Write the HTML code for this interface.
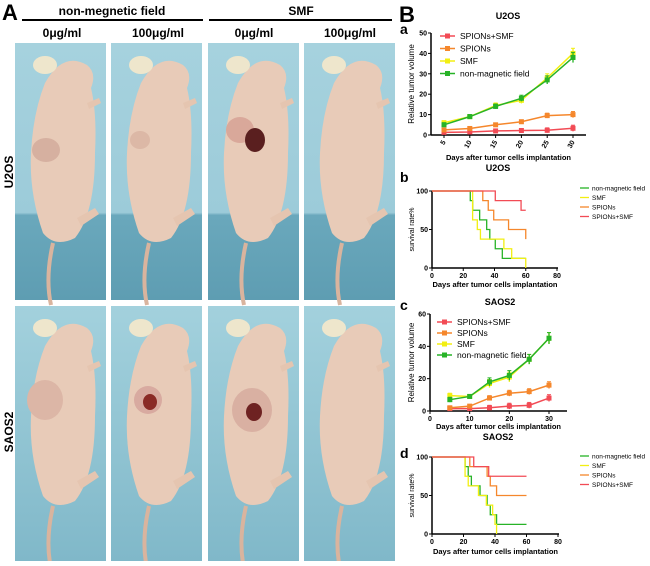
<!DOCTYPE html>
<html><head><meta charset="utf-8"><style>
body{margin:0;background:#fff;width:650px;height:561px;overflow:hidden;font-family:"Liberation Sans",Arial,sans-serif}
svg text{font-family:"Liberation Sans",Arial,sans-serif}
</style></head><body>
<svg id="fig" width="650" height="561" viewBox="0 0 650 561" xmlns="http://www.w3.org/2000/svg">
<defs>
<linearGradient id="bg1" x1="0" y1="0" x2="0" y2="1"><stop offset="0" stop-color="#a6d2de"/><stop offset="0.66" stop-color="#9ccbd9"/><stop offset="0.67" stop-color="#6aa8bc"/><stop offset="1" stop-color="#5e9db2"/></linearGradient>
<linearGradient id="bg2" x1="0" y1="0" x2="0" y2="1"><stop offset="0" stop-color="#a3d1dd"/><stop offset="1" stop-color="#80b8c9"/></linearGradient>
<g id="mouse">
<path d="M38 200 Q30 235 36 262" stroke="#d9b49e" stroke-width="4" fill="none"/>
<path d="M30 40 Q48 8 72 22 Q82 30 76 45 Q82 70 80 110 Q80 170 60 195 Q40 205 28 190 Q14 150 16 110 Q18 70 30 40Z" fill="#e8cbb8"/>
<ellipse cx="30" cy="22" rx="12" ry="9" fill="#eee6cc"/>
<path d="M62 175 L80 165 L84 171 L66 183Z" fill="#e5c5b0"/>
<path d="M72 60 L84 55 L86 60 L74 66Z" fill="#e5c5b0"/>
</g>
</defs>
<g>
<text x="2" y="20" font-size="22" font-weight="bold">A</text>
<text x="112" y="15" font-size="12" font-weight="bold" text-anchor="middle">non-megnetic field</text>
<text x="301" y="15" font-size="12" font-weight="bold" text-anchor="middle">SMF</text>
<line x1="22" y1="20" x2="203" y2="20" stroke="#000" stroke-width="2"/>
<line x1="209" y1="20" x2="392" y2="20" stroke="#000" stroke-width="2"/>
<text x="62" y="37" font-size="12" font-weight="bold" text-anchor="middle">0μg/ml</text>
<text x="158" y="37" font-size="12" font-weight="bold" text-anchor="middle">100μg/ml</text>
<text x="254" y="37" font-size="12" font-weight="bold" text-anchor="middle">0μg/ml</text>
<text x="350" y="37" font-size="12" font-weight="bold" text-anchor="middle">100μg/ml</text>
<text transform="translate(13,172) rotate(-90)" font-size="12" font-weight="bold" text-anchor="middle">U2OS</text>
<text transform="translate(13,432) rotate(-90)" font-size="12" font-weight="bold" text-anchor="middle">SAOS2</text>
<g>
<rect x="15" y="43" width="91" height="257" fill="url(#bg1)"/><use href="#mouse" x="15" y="43"/><ellipse cx="46" cy="150" rx="14" ry="12" fill="#d6b0a0"/>
<rect x="111" y="43" width="91" height="257" fill="url(#bg1)"/><use href="#mouse" x="111" y="43"/><ellipse cx="140" cy="140" rx="10" ry="9" fill="#dcb8a6"/>
<rect x="208" y="43" width="91" height="257" fill="url(#bg1)"/><use href="#mouse" x="208" y="43"/><ellipse cx="240" cy="130" rx="14" ry="13" fill="#d9a89a"/><ellipse cx="255" cy="140" rx="10" ry="12" fill="#5a1f1f"/>
<rect x="304" y="43" width="91" height="257" fill="url(#bg1)"/><use href="#mouse" x="304" y="43"/>
</g>
<g>
<rect x="15" y="306" width="91" height="255" fill="url(#bg2)"/><use href="#mouse" x="15" y="306"/><ellipse cx="45" cy="400" rx="18" ry="20" fill="#dcb6a6"/>
<rect x="111" y="306" width="91" height="255" fill="url(#bg2)"/><use href="#mouse" x="111" y="306"/><ellipse cx="148" cy="400" rx="14" ry="14" fill="#d8aaa0"/><ellipse cx="150" cy="402" rx="7" ry="8" fill="#8a2a26"/>
<rect x="208" y="306" width="91" height="255" fill="url(#bg2)"/><use href="#mouse" x="208" y="306"/><ellipse cx="252" cy="410" rx="20" ry="22" fill="#d9b0a2"/><ellipse cx="254" cy="412" rx="8" ry="9" fill="#6e2222"/>
<rect x="304" y="306" width="91" height="255" fill="url(#bg2)"/><use href="#mouse" x="304" y="306"/>
</g>
</g>
<g>
<text x="399" y="22" font-size="22" font-weight="bold">B</text>
<text x="400" y="34" font-size="14" font-weight="bold">a</text>
<text x="400" y="182" font-size="14" font-weight="bold">b</text>
<text x="400" y="310" font-size="14" font-weight="bold">c</text>
<text x="400" y="458" font-size="14" font-weight="bold">d</text>
<g id="charts"></g>
</g>
</svg>
<script>
// Chart a: U2OS tumor volume
const aDays=[5,10,15,20,25,30];
const aNonMag=[5,9,14,18,27,38];
const aSMF=[6,9,14.5,17,28,40];
const aSPIONs=[2.5,3.2,5,6.5,9.5,10];
const aCombo=[1.3,1.5,2,2.2,2.3,3.3];
const aErr=[1,1,1.2,1.5,2,2.5];
const aYTicks=[0,10,20,30,40,50];
// Chart c: SAOS2 tumor volume
const cDays=[5,10,15,20,25,30];
const cNonMag=[7,9,18,22,32,45];
const cSMF=[9.5,9,17,21,32,45];
const cSPIONs=[2,3,8,11,12,16];
const cCombo=[1.5,1.5,2,3,3.5,8];
const cErr=[1.5,1.2,2.5,3,3,3.5];
const cYTicks=[0,20,40,60];
const cXTicks=[0,10,20,30];
// Survival b: U2OS (step points: day, %)
const bNonMag=[[0,100],[24.5,87.5],[26,75],[30.5,62.5],[35,50],[37,37.5],[40.5,25],[45,12.5],[60,12.5]];
const bSMF=[[0,100],[26,62.5],[29,50],[31,37.5],[46,25],[51,12.5],[60,0]];
const bSPIONs=[[0,100],[32.5,87.5],[36,75],[39.5,62.5],[49,50],[60,37.5]];
const bCombo=[[0,100],[40.5,87.5],[57,75],[60,75]];
// Survival d: SAOS2
const dNonMag=[[0,100],[21,87.5],[23,75],[25,62.5],[30.5,50],[35,37.5],[37,25],[41,12.5],[60,12.5]];
const dSMF=[[0,100],[21,75],[23,62.5],[29.5,50],[34.5,37.5],[38.5,25],[40,12.5],[41,0]];
const dSPIONs=[[0,100],[24,87.5],[35,75],[37,62.5],[41,50],[60,50]];
const dCombo=[[0,100],[26.5,87.5],[36,75],[60,75]];
const sYTicks=[0,50,100];
const sXTicks=[0,20,40,60,80];
const legLineNames=["SPIONs+SMF","SPIONs","SMF","non-magnetic field"];
const legSurvNames=["non-magnetic field","SMF","SPIONs","SPIONs+SMF"];

const NS="http://www.w3.org/2000/svg";
const root=document.getElementById('charts');
const COL={combo:"#f24b55",spions:"#f5872c",smf:"#f2ef12",nonmag:"#27b327"};
function mk(tag,attrs,parent){const e=document.createElementNS(NS,tag);for(const k in attrs)e.setAttribute(k,attrs[k]);(parent||root).appendChild(e);return e;}
function txt(x,y,s,size,opts,parent){const t=mk('text',Object.assign({x:x,y:y,'font-size':size},opts||{}),parent);t.textContent=s;return t;}

function lineChart(cfg){
  const g=mk('g',{});
  
  
  const X=d=>cfg.x0+(d-cfg.d0)*(cfg.x1-cfg.x0)/(cfg.d1-cfg.d0);
  const Y=v=>cfg.y0-(v-cfg.v0)*(cfg.y0-cfg.y1)/(cfg.v1-cfg.v0);
  mk('line',{x1:cfg.ax,y1:cfg.y0,x2:cfg.axEnd,y2:cfg.y0,stroke:'#000','stroke-width':1.5},g);
  mk('line',{x1:cfg.ax,y1:cfg.y0,x2:cfg.ax,y2:Y(cfg.yTicks[cfg.yTicks.length-1]),stroke:'#000','stroke-width':1.5},g);
  cfg.yTicks.forEach(t=>{mk('line',{x1:cfg.ax-3,x2:cfg.ax,y1:Y(t),y2:Y(t),stroke:'#000'},g);
    txt(cfg.ax-4,Y(t)+2.5,String(t),7,{'text-anchor':'end','font-weight':'bold'},g);});
  cfg.xTicks.forEach(t=>{mk('line',{x1:X(t),x2:X(t),y1:cfg.y0,y2:cfg.y0+3,stroke:'#000'},g);
    if(cfg.rot){txt(0,0,String(t),7,{'text-anchor':'end','font-weight':'bold',transform:`translate(${X(t)+2},${cfg.y0+7}) rotate(-60)`},g);}
    else txt(X(t),cfg.y0+10,String(t),7,{'text-anchor':'middle','font-weight':'bold'},g);});
  txt(cfg.ax+(cfg.axEnd-cfg.ax)/2,cfg.titleY,cfg.xTitle,7.5,{'text-anchor':'middle','font-weight':'bold'},g);
  txt(cfg.headX,cfg.headY,cfg.head,9,{'text-anchor':'middle','font-weight':'bold'},g);
  txt(0,0,cfg.yTitle,cfg.yTitleSize,{'text-anchor':'middle',transform:`translate(${cfg.yTitleX},${(cfg.y0+Y(cfg.yTicks[cfg.yTicks.length-1]))/2}) rotate(-90)`},g);
  return {g,X,Y};
}

function volChart(cfg,days,series,err){
  const {g,X,Y}=lineChart(cfg);
  series.forEach(s=>{
    const sg=mk('g',{},g);
    
    
    const pts=days.map((d,i)=>X(d)+','+Y(s.vals[i])).join(' ');
    mk('polyline',{points:pts,fill:'none',stroke:s.col,'stroke-width':1.5},sg);
    days.forEach((d,i)=>{
      const e=err[i]*(s.id==='nonmag'||s.id==='smf'?1:0.6);
      mk('line',{x1:X(d),x2:X(d),y1:Y(s.vals[i]+e),y2:Y(Math.max(0,s.vals[i]-e)),stroke:s.col,'stroke-width':1.3},sg);
      mk('line',{x1:X(d)-2,x2:X(d)+2,y1:Y(s.vals[i]+e),y2:Y(s.vals[i]+e),stroke:s.col},sg);
      const p=mk('rect',{x:X(d)-2.5,y:Y(s.vals[i])-2.5,width:5,height:5,fill:s.col},sg);
      
      
    });
  });
  const lg=mk('g',{},g);
  
  
  const lc=[COL.combo,COL.spions,COL.smf,COL.nonmag];
  legLineNames.forEach((n,i)=>{const y=cfg.legY+i*cfg.legDy;
    mk('line',{x1:cfg.legX,x2:cfg.legX+15,y1:y,y2:y,stroke:lc[i],'stroke-width':1.5},lg);
    mk('rect',{x:cfg.legX+5,y:y-2.5,width:5,height:5,fill:lc[i]},lg);
    const t=txt(cfg.legX+20,y+3,n,8.5,{},lg);
    
    });
}

function survChart(cfg,series){
  const {g,X,Y}=lineChart(cfg);
  series.forEach(s=>{
    let d='M'+X(s.pts[0][0])+' '+Y(s.pts[0][1]);
    for(let i=1;i<s.pts.length;i++){d+=' H'+X(s.pts[i][0])+' V'+Y(s.pts[i][1]);}
    const p=mk('path',{d:d,fill:'none',stroke:s.col,'stroke-width':1.3},g);
    
    
  });
  const lg=mk('g',{},g);
  
  
  const lc=[COL.nonmag,COL.smf,COL.spions,COL.combo];
  legSurvNames.forEach((n,i)=>{const y=cfg.legY+i*9.5;
    mk('line',{x1:580,x2:589,y1:y,y2:y,stroke:lc[i],'stroke-width':1.3},lg);
    const t=txt(592,y+2.5,n,6.5,{},lg);
    
    });
}

volChart({name:'chart-a-u2os-volume',key:'a',x0:444,x1:573,d0:5,d1:30,y0:135,y1:33,v0:0,v1:50,ax:431,axEnd:586,
  yTicks:aYTicks,xTicks:aDays,rot:true,xTitle:'Days after tumor cells implantation',titleY:160,head:'U2OS',headX:508,headY:19,
  yTitle:'Relative tumor volume',yTitleSize:8,yTitleX:414,legX:440,legY:36,legDy:12.5},
  aDays,[{id:'combo',col:COL.combo,vals:aCombo},{id:'spions',col:COL.spions,vals:aSPIONs},{id:'smf',col:COL.smf,vals:aSMF},{id:'nonmag',col:COL.nonmag,vals:aNonMag}],aErr);

survChart({name:'chart-b-u2os-survival',key:'b',x0:432,x1:557,d0:0,d1:80,y0:268,y1:191,v0:0,v1:100,ax:432,axEnd:558,
  yTicks:sYTicks,xTicks:sXTicks,xTitle:'Days after tumor cells implantation',titleY:287,head:'U2OS',headX:498,headY:171,
  yTitle:'survival rate%',yTitleSize:7,yTitleX:414,legY:188},
  [{id:'nonmag',col:COL.nonmag,pts:bNonMag},{id:'smf',col:COL.smf,pts:bSMF},{id:'spions',col:COL.spions,pts:bSPIONs},{id:'combo',col:COL.combo,pts:bCombo}]);

volChart({name:'chart-c-saos2-volume',key:'c',x0:430,x1:549,d0:0,d1:30,y0:411,y1:314,v0:0,v1:60,ax:430,axEnd:567,
  yTicks:cYTicks,xTicks:cXTicks,rot:false,xTitle:'Days after tumor cells implantation',titleY:429,head:'SAOS2',headX:500,headY:305,
  yTitle:'Relative tumor volume',yTitleSize:8,yTitleX:414,legX:437,legY:322,legDy:11},
  cDays,[{id:'combo',col:COL.combo,vals:cCombo},{id:'spions',col:COL.spions,vals:cSPIONs},{id:'smf',col:COL.smf,vals:cSMF},{id:'nonmag',col:COL.nonmag,vals:cNonMag}],cErr);

survChart({name:'chart-d-saos2-survival',key:'d',x0:432,x1:558,d0:0,d1:80,y0:534,y1:457,v0:0,v1:100,ax:432,axEnd:559,
  yTicks:sYTicks,xTicks:sXTicks,xTitle:'Days after tumor cells implantation',titleY:554,head:'SAOS2',headX:498,headY:440,
  yTitle:'survival rate%',yTitleSize:7,yTitleX:414,legY:456},
  [{id:'nonmag',col:COL.nonmag,pts:dNonMag},{id:'smf',col:COL.smf,pts:dSMF},{id:'spions',col:COL.spions,pts:dSPIONs},{id:'combo',col:COL.combo,pts:dCombo}]);
</script>
</body></html>
